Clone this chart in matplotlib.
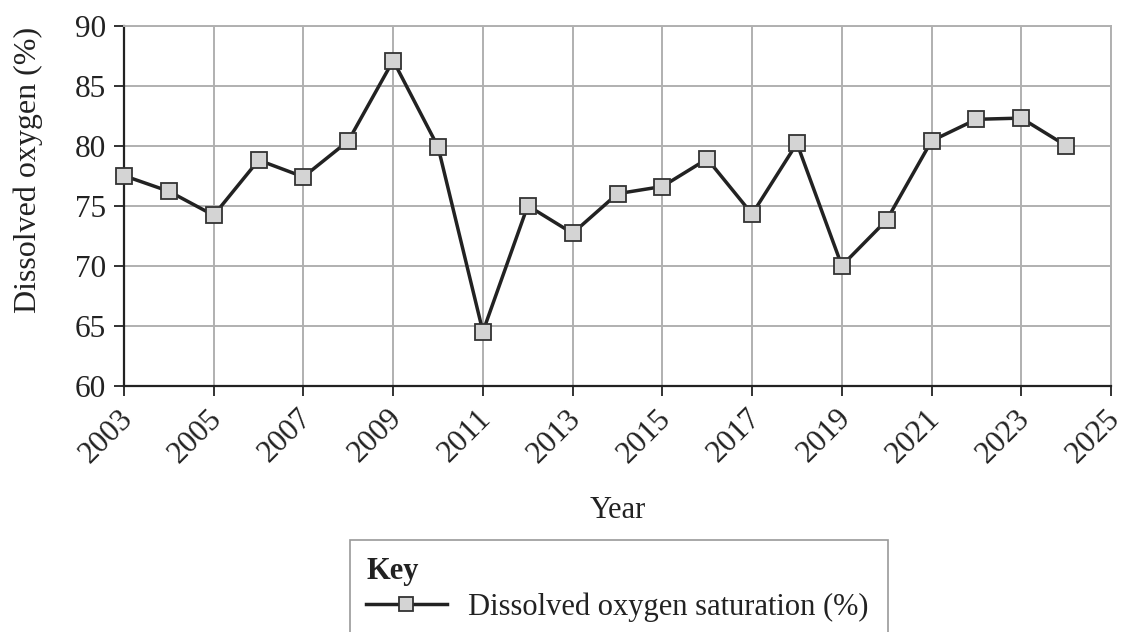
import matplotlib
matplotlib.use("Agg")
import matplotlib.pyplot as plt
from matplotlib.patches import Rectangle
from matplotlib.transforms import ScaledTranslation

years = list(range(2003, 2025))
oxygen = [77.5, 76.2, 74.2, 78.8, 77.4, 80.4, 87.1, 79.9, 64.5, 75.0, 72.7,
          76.0, 76.6, 78.9, 74.3, 80.2, 70.0, 73.8, 80.4, 82.2, 82.3, 80.0]
xticks = list(range(2003, 2026, 2))
yticks = [60, 65, 70, 75, 80, 85, 90]
series_label = "Dissolved oxygen saturation (%)"

plt.rcParams['font.family'] = ['Liberation Serif', 'DejaVu Serif']
FS = 22

fig = plt.figure(figsize=(11.31, 6.32), dpi=100)
W, H = 1131, 632
ax = fig.add_axes([124 / W, 1 - 385.7 / H, (1111 - 124) / W, (385.7 - 25.7) / H])

ax.plot(years, oxygen, color='#222222', lw=2.5, marker='s', markersize=11.5,
        markerfacecolor='#d4d4d4', markeredgecolor='#333333', markeredgewidth=1.3,
        zorder=3, label=series_label, clip_on=False)

ax.set_xlim(2003, 2025)
ax.set_ylim(60, 90)
ax.set_xticks(xticks)
ax.set_yticks(yticks)
ax.set_xticklabels([str(x) for x in xticks], rotation=45, ha='right',
                   rotation_mode='anchor', va='top')
ax.tick_params(axis='both', labelsize=22.5, length=7, width=1.3, color='#222222',
               labelcolor='#222222')
ax.tick_params(axis='x', pad=6)
ax.tick_params(axis='y', pad=6)
shift = ScaledTranslation(-6 / 100, 0, fig.dpi_scale_trans)
for lab in ax.get_xticklabels():
    lab.set_transform(lab.get_transform() + shift)
ax.grid(True, color='#b0b0b0', lw=1.4, zorder=0)
ax.set_axisbelow(True)
for s in ['top', 'right']:
    ax.spines[s].set_color('#b0b0b0')
    ax.spines[s].set_linewidth(1.4)
for s in ['left', 'bottom']:
    ax.spines[s].set_color('#222222')
    ax.spines[s].set_linewidth(1.6)

ax.set_ylabel("Dissolved oxygen (%)", fontsize=23, color='#222222')
ax.yaxis.set_label_coords(-0.082, 0.6)
ax.set_xlabel("Year", fontsize=FS, color='#222222', labelpad=20)

# Key box
fig.patches.append(Rectangle((350 / W, -0.1), (888 - 350) / W, (632 - 540) / H + 0.1,
                             transform=fig.transFigure, fill=False,
                             edgecolor='#999999', lw=1.2, clip_on=False))
fig.text(366 / W, 1 - 571 / H, "Key", fontsize=FS, fontweight='bold',
         color='#222222', ha='left', va='center')
handles, labels = ax.get_legend_handles_labels()
leg = fig.legend(handles, labels, loc='center left',
                 bbox_to_anchor=(366 / W, 1 - 607 / H), frameon=False,
                 fontsize=FS, handlelength=2.65, handletextpad=0.68,
                 borderpad=0, borderaxespad=0, markerscale=0.9)
for t in leg.get_texts():
    t.set_color('#222222')

fig.savefig("out.png", dpi=100)
